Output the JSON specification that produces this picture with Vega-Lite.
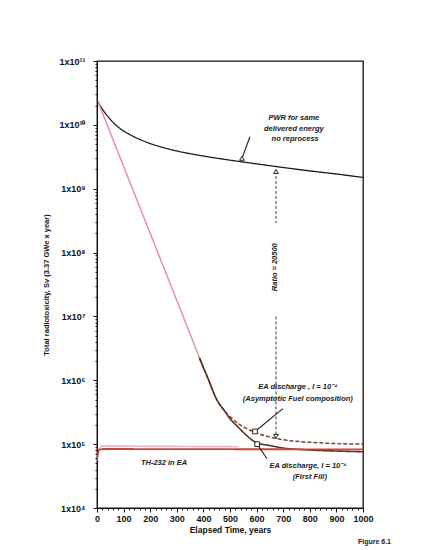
{
  "$schema": "https://vega.github.io/schema/vega-lite/v6.json",
  "width": 266,
  "height": 447,
  "autosize": "none",
  "padding": {"left": 97, "top": 61, "right": 69, "bottom": 42},
  "background": "white",
  "config": {
    "view": {"stroke": "#111", "strokeWidth": 1.3},
    "font": "Liberation Sans"
  },
  "title": {"text": "Figure 6.1", "orient": "bottom", "anchor": "end", "fontSize": 7, "fontWeight": "bold", "dx": 18, "offset": 4, "color": "#222"},
  "datasets": {
    "curves": [
      {"s": "PWR", "t": 0, "v": 24000000000},
      {"s": "PWR", "t": 10, "v": 20500000000},
      {"s": "PWR", "t": 25, "v": 16500000000},
      {"s": "PWR", "t": 50, "v": 12200000000},
      {"s": "PWR", "t": 75, "v": 9600000000},
      {"s": "PWR", "t": 100, "v": 8000000000},
      {"s": "PWR", "t": 125, "v": 7000000000},
      {"s": "PWR", "t": 150, "v": 6200000000},
      {"s": "PWR", "t": 200, "v": 5100000000},
      {"s": "PWR", "t": 250, "v": 4400000000},
      {"s": "PWR", "t": 300, "v": 3900000000},
      {"s": "PWR", "t": 400, "v": 3250000000},
      {"s": "PWR", "t": 500, "v": 2800000000},
      {"s": "PWR", "t": 600, "v": 2450000000},
      {"s": "PWR", "t": 700, "v": 2150000000},
      {"s": "PWR", "t": 800, "v": 1900000000},
      {"s": "PWR", "t": 900, "v": 1700000000},
      {"s": "PWR", "t": 1000, "v": 1500000000},
      {"s": "EA pink", "t": 5, "v": 22400000000},
      {"s": "EA pink", "t": 50, "v": 7500000000},
      {"s": "EA pink", "t": 100, "v": 2240000000},
      {"s": "EA pink", "t": 150, "v": 670000000},
      {"s": "EA pink", "t": 200, "v": 200000000},
      {"s": "EA pink", "t": 250, "v": 59600000},
      {"s": "EA pink", "t": 300, "v": 17800000},
      {"s": "EA pink", "t": 350, "v": 5300000},
      {"s": "EA pink", "t": 400, "v": 1580000},
      {"s": "EA asymptotic", "t": 385, "v": 2240000},
      {"s": "EA asymptotic", "t": 420, "v": 1000000},
      {"s": "EA asymptotic", "t": 450, "v": 500000},
      {"s": "EA asymptotic", "t": 480, "v": 330000},
      {"s": "EA asymptotic", "t": 500, "v": 270000},
      {"s": "EA asymptotic", "t": 530, "v": 210000},
      {"s": "EA asymptotic", "t": 560, "v": 178000},
      {"s": "EA asymptotic", "t": 600, "v": 150000},
      {"s": "EA asymptotic", "t": 650, "v": 129000},
      {"s": "EA asymptotic", "t": 700, "v": 117000},
      {"s": "EA asymptotic", "t": 800, "v": 107000},
      {"s": "EA asymptotic", "t": 900, "v": 102000},
      {"s": "EA asymptotic", "t": 1000, "v": 100000},
      {"s": "EA first fill", "t": 385, "v": 2240000},
      {"s": "EA first fill", "t": 420, "v": 1000000},
      {"s": "EA first fill", "t": 450, "v": 500000},
      {"s": "EA first fill", "t": 480, "v": 330000},
      {"s": "EA first fill", "t": 500, "v": 250000},
      {"s": "EA first fill", "t": 530, "v": 186000},
      {"s": "EA first fill", "t": 560, "v": 140000},
      {"s": "EA first fill", "t": 600, "v": 105000},
      {"s": "EA first fill", "t": 650, "v": 95000},
      {"s": "EA first fill", "t": 700, "v": 87000},
      {"s": "EA first fill", "t": 800, "v": 81000},
      {"s": "EA first fill", "t": 900, "v": 78000},
      {"s": "EA first fill", "t": 1000, "v": 76000},
      {"s": "TH pink", "t": 5, "v": 80000},
      {"s": "TH pink", "t": 20, "v": 93000},
      {"s": "TH pink", "t": 300, "v": 92000},
      {"s": "TH pink", "t": 530, "v": 91000},
      {"s": "TH-232", "t": 0, "v": 55000},
      {"s": "TH-232", "t": 4, "v": 72000},
      {"s": "TH-232", "t": 10, "v": 82000},
      {"s": "TH-232", "t": 25, "v": 84000},
      {"s": "TH-232", "t": 300, "v": 83500},
      {"s": "TH-232", "t": 1000, "v": 83000}
    ],
    "arrows": [
      {"a": "PWR", "t": 575, "v": 6500000000, "t2": 545, "v2": 3000000000},
      {"a": "asym", "t": 699, "v": 360000, "t2": 594, "v2": 158000},
      {"a": "first", "t": 639, "v": 59000, "t2": 602, "v2": 100000}
    ],
    "ratio": [
      {"t": 673, "v": 1900000000, "v2": 290000000},
      {"t": 673, "v": 10000000, "v2": 130000}
    ],
    "markers": [
      {"m": "triangle-up", "t": 673, "v": 1860000000},
      {"m": "triangle-down", "t": 673, "v": 132000},
      {"m": "triangle-up", "t": 545, "v": 3000000000},
      {"m": "square", "t": 594, "v": 158000},
      {"m": "square", "t": 602, "v": 100000}
    ],
    "labels": [
      {"label": "PWR for same", "t": 740, "v": 12900000000},
      {"label": "delivered energy", "t": 740, "v": 8700000000},
      {"label": "no reprocess", "t": 745, "v": 5900000000},
      {"label": "EA discharge , I = 10⁻⁴", "t": 755, "v": 790000},
      {"label": "(Asymptotic Fuel composition)", "t": 755, "v": 510000},
      {"label": "EA discharge, I = 10⁻⁴", "t": 793, "v": 46000},
      {"label": "(First Fill)", "t": 800, "v": 31000},
      {"label": "TH-232 in EA", "t": 252, "v": 50000}
    ],
    "rot": [
      {"label": "Ratio ≈ 20500", "t": 668, "v": 59000000}
    ]
  },
  "encoding": {
    "x": {
      "field": "t", "type": "quantitative",
      "scale": {"domain": [0, 1000], "nice": false},
      "axis": {
        "title": "Elapsed Time, years",
        "format": "d",
        "values": [0,20,40,60,80,100,120,140,160,180,200,220,240,260,280,300,320,340,360,380,400,420,440,460,480,500,520,540,560,580,600,620,640,660,680,700,720,740,760,780,800,820,840,860,880,900,920,940,960,980,1000],
        "labelExpr": "datum.value % 100 == 0 ? datum.label : ''",
        "labelOverlap": false,
        "labelFlush": false,
        "tickSize": {"condition": {"test": "datum.value % 100 == 0", "value": 4}, "value": 2},
        "grid": false,
        "domainColor": "#111",
        "tickColor": "#111",
        "labelFontSize": 9,
        "labelFontWeight": "bold",
        "labelColor": "#111",
        "labelPadding": 2,
        "titleFontSize": 8.5,
        "titleFontWeight": "bold",
        "titleColor": "#111",
        "titlePadding": 2
      }
    },
    "y": {
      "field": "v", "type": "quantitative",
      "scale": {"type": "log", "domain": [10000, 100000000000], "nice": false},
      "axis": {
        "title": "Total radiotoxicity, Sv (3.37 GWe x year)",
        "values": [10000,20000,30000,40000,50000,60000,70000,80000,90000,100000,200000,300000,400000,500000,600000,700000,800000,900000,1000000,2000000,3000000,4000000,5000000,6000000,7000000,8000000,9000000,10000000,20000000,30000000,40000000,50000000,60000000,70000000,80000000,90000000,100000000,200000000,300000000,400000000,500000000,600000000,700000000,800000000,900000000,1000000000,2000000000,3000000000,4000000000,5000000000,6000000000,7000000000,8000000000,9000000000,10000000000,20000000000,30000000000,40000000000,50000000000,60000000000,70000000000,80000000000,90000000000,100000000000],
        "labelExpr": "abs(log(datum.value)/LN10 - round(log(datum.value)/LN10)) < 0.001 ? '1x10' + ['⁰','¹','²','³','⁴','⁵','⁶','⁷','⁸','⁹','¹⁰','¹¹'][round(log(datum.value)/LN10)] : ''",
        "labelOverlap": false,
        "labelFlush": false,
        "tickSize": {"condition": {"test": "abs(log(datum.value)/LN10 - round(log(datum.value)/LN10)) < 0.001", "value": 4}, "value": 2},
        "grid": false,
        "domainColor": "#111",
        "tickColor": "#111",
        "labelFontSize": 9,
        "labelFontWeight": "bold",
        "labelColor": "#111",
        "labelPadding": 8,
        "titleFontSize": 7.5,
        "titleFontWeight": "bold",
        "titleColor": "#111",
        "titlePadding": 8
      }
    }
  },
  "layer": [
    {
      "data": {"name": "curves"},
      "mark": {"type": "line", "clip": true, "interpolate": "monotone"},
      "encoding": {
        "color": {
          "field": "s", "type": "nominal", "legend": null,
          "scale": {
            "domain": ["PWR", "EA pink", "EA asymptotic", "EA first fill", "TH pink", "TH-232"],
            "range": ["#1a1a1a", "#e58ba0", "#7a4526", "#5a3020", "#f2b3c2", "#c8453a"]
          }
        },
        "strokeWidth": {
          "field": "s", "type": "nominal", "legend": null,
          "scale": {
            "domain": ["PWR", "EA pink", "EA asymptotic", "EA first fill", "TH pink", "TH-232"],
            "range": [1.3, 1.8, 1.2, 1.1, 2.2, 0.9]
          }
        },
        "strokeDash": {
          "field": "s", "type": "nominal", "legend": null,
          "scale": {
            "domain": ["PWR", "EA pink", "EA asymptotic", "EA first fill", "TH pink", "TH-232"],
            "range": [[1, 0], [1, 0], [4, 2], [1, 0], [1, 0], [1, 0]]
          }
        },
        "order": {"field": "t", "type": "quantitative"}
      }
    },
    {
      "data": {"name": "ratio"},
      "mark": {"type": "rule", "strokeDash": [3, 2], "color": "#222", "strokeWidth": 0.9},
      "encoding": {
        "y2": {"field": "v2"}
      }
    },
    {
      "data": {"name": "arrows"},
      "mark": {"type": "rule", "color": "#222", "strokeWidth": 1.1},
      "encoding": {
        "x2": {"field": "t2"},
        "y2": {"field": "v2"}
      }
    },
    {
      "data": {"name": "markers"},
      "mark": {"type": "point", "filled": false, "color": "#222", "size": 22, "strokeWidth": 1, "fill": "white", "fillOpacity": 1},
      "encoding": {
        "shape": {"field": "m", "type": "nominal", "legend": null, "scale": {"domain": ["triangle-up", "triangle-down", "square"], "range": ["triangle-up", "triangle-down", "square"]}}
      }
    },
    {
      "data": {"name": "labels"},
      "mark": {"type": "text", "fontSize": 7.5, "fontStyle": "italic", "fontWeight": "bold", "color": "#1a1a1a", "align": "center", "baseline": "middle"},
      "encoding": {
        "text": {"field": "label"}
      }
    },
    {
      "data": {"name": "rot"},
      "mark": {"type": "text", "fontSize": 7.5, "fontStyle": "italic", "fontWeight": "bold", "color": "#1a1a1a", "align": "center", "baseline": "middle", "angle": 270},
      "encoding": {
        "text": {"field": "label"}
      }
    }
  ]
}
